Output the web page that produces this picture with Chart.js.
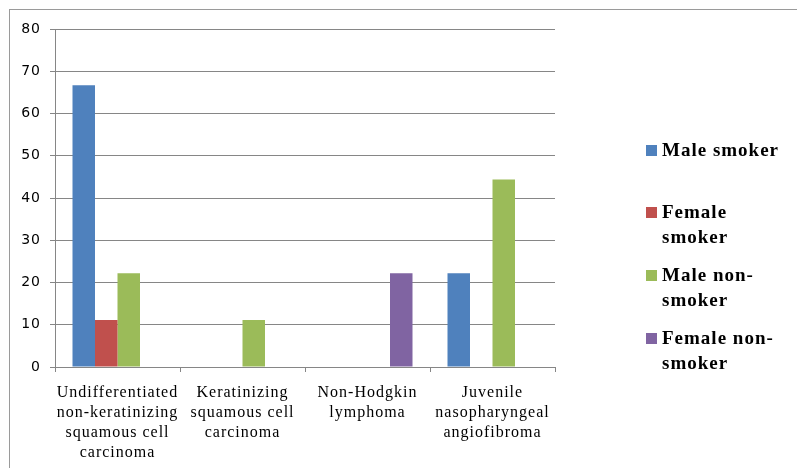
<!DOCTYPE html>
<html>
<head>
<meta charset="utf-8">
<script src="https://cdn.jsdelivr.net/npm/chart.js@4"></script>
<style>
  html, body { margin: 0; padding: 0; background: #fff; }
  #wrap { position: relative; width: 797px; height: 468px; overflow: hidden; }
  #frame { position: absolute; left: 9px; top: 9px; width: 800px; height: 480px; border: 1px solid #9a9a9a; box-sizing: border-box; }
  canvas { position: absolute; left: 0; top: 0; }
</style>
</head>
<body>
<div id="wrap">
  <div id="frame"></div>
  <canvas id="chart" width="797" height="468"></canvas>
</div>
<script>
const categories = [
  ["Undifferentiated", "non-keratinizing", "squamous cell", "carcinoma"],
  ["Keratinizing", "squamous cell", "carcinoma"],
  ["Non-Hodgkin", "lymphoma"],
  ["Juvenile", "nasopharyngeal", "angiofibroma"]
];
const seriesNames = [
  ["Male smoker"],
  ["Female", "smoker"],
  ["Male non-", "smoker"],
  ["Female non-", "smoker"]
];
const maleSmoker = [66.7, 0, 0, 22.2];
const femaleSmoker = [11.1, 0, 0, 0];
const maleNonSmoker = [22.2, 11.1, 0, 44.4];
const femaleNonSmoker = [0, 0, 22.2, 0];
const colors = ["#4F81BD", "#C0504D", "#9BBB59", "#8064A2"];

const serif = "'Liberation Serif', 'Times New Roman', serif";

// the original text is loosely spaced, so widen letters while the chart draws
const spacing = {
  id: "spacing",
  beforeDraw(chart) { chart.ctx.letterSpacing = "1px"; },
  afterDraw(chart) { chart.ctx.letterSpacing = "0px"; }
};

// legend drawn by hand so the labels can wrap like the original
const sideLegend = {
  id: "sideLegend",
  afterDraw(chart) {
    const ctx = chart.ctx;
    const rowsY = [[150], [212, 237], [275, 300], [338, 363]];
    ctx.save();
    ctx.font = "bold 19px " + serif;
    ctx.letterSpacing = "1px";
    ctx.textBaseline = "middle";
    ctx.textAlign = "left";
    chart.data.datasets.forEach((ds, i) => {
      const ys = rowsY[i];
      ctx.fillStyle = ds.backgroundColor;
      ctx.fillRect(646, ys[0] - 5, 11, 11);
      ctx.fillStyle = "#000";
      seriesNames[i].forEach((line, j) => {
        ctx.fillText(line, 662, ys[j] + 1);
      });
    });
    ctx.restore();
  }
};

const ctx = document.getElementById("chart").getContext("2d");
const myChart = new Chart(ctx, {
  type: "bar",
  data: {
    labels: categories,
    datasets: [
      { label: "Male smoker", data: maleSmoker, backgroundColor: colors[0] },
      { label: "Female smoker", data: femaleSmoker, backgroundColor: colors[1] },
      { label: "Male non-smoker", data: maleNonSmoker, backgroundColor: colors[2] },
      { label: "Female non-smoker", data: femaleNonSmoker, backgroundColor: colors[3] }
    ]
  },
  options: {
    responsive: false,
    animation: false,
    layout: { padding: { left: 0, top: 29, right: 242, bottom: 0 } },
    datasets: {
      bar: { categoryPercentage: 0.72, barPercentage: 1.0, borderWidth: 0 }
    },
    scales: {
      x: {
        grid: {
          offset: true,
          drawOnChartArea: false,
          drawTicks: true,
          tickLength: 5,
          color: "#868686"
        },
        border: { color: "#868686", width: 1 },
        ticks: {
          color: "#000",
          font: { family: serif, size: 16, lineHeight: 1.25 },
          padding: 11,
          maxRotation: 0,
          autoSkip: false
        },
        afterFit(scale) { scale.height = 101; }
      },
      y: {
        min: 0,
        max: 80,
        ticks: {
          stepSize: 10,
          color: "#000",
          font: { family: "'DejaVu Sans', Verdana, sans-serif", size: 14 },
          padding: 9
        },
        grid: { color: "#868686", tickLength: 5 },
        border: { color: "#868686", width: 1 },
        afterFit(scale) { scale.width = 55; }
      }
    },
    plugins: {
      legend: { display: false },
      tooltip: { enabled: false }
    }
  },
  plugins: [spacing, sideLegend]
});
</script>
</body>
</html>
